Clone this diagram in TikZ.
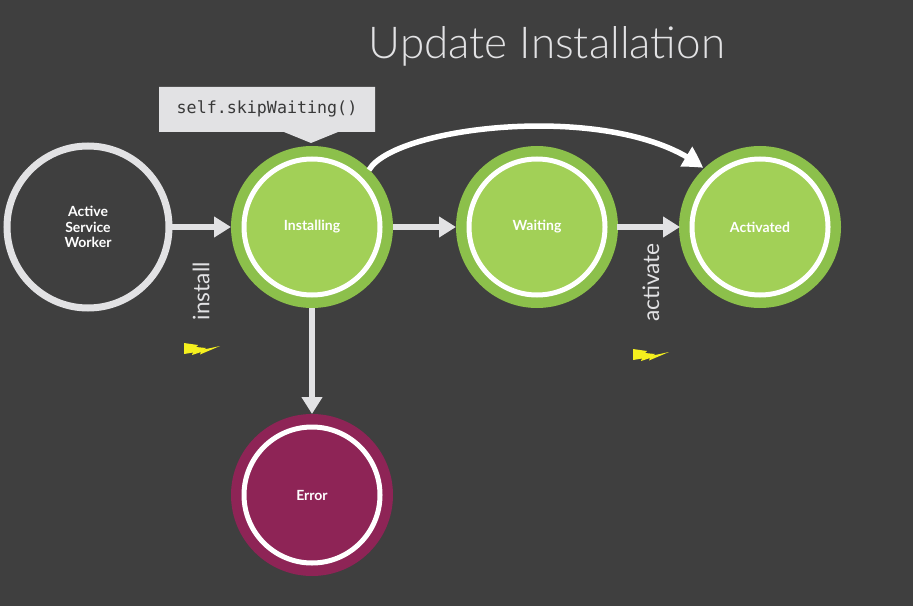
\documentclass[tikz,border=0pt]{standalone}
\usepackage{fontspec}
\setmainfont{Lato}
\setmonofont{DejaVu Sans Mono}
\newfontfamily\titlefont{Lato Light}
\usetikzlibrary{arrows.meta,bending}
\definecolor{bg}{HTML}{3F3F3F}
\definecolor{ringgrey}{HTML}{E2E2E4}
\definecolor{leaf}{HTML}{A2D057}
\definecolor{leafedge}{HTML}{8CC04B}
\definecolor{wine}{HTML}{8E2456}
\definecolor{bolt}{HTML}{F5F01E}
\tikzset{
  x=0.75pt,y=-0.75pt,
  statebase/.style={circle,inner sep=0pt,minimum size=142pt*0.75,line width=12.5pt*0.75,align=center,text=white,
     font=\fontsize{10.5pt}{11.6pt}\selectfont\bfseries},
  greenstate/.style={statebase,draw=white,fill=leaf,
     preaction={draw=none,fill=leafedge,circle,minimum size=162pt*0.75}},
  conn/.style={draw=ringgrey,line width=5.5pt*0.75,-{Triangle[length=17pt*0.75,width=20pt*0.75]},shorten >=0pt},
  evlabel/.style={rotate=90,text=ringgrey,font=\fontsize{17pt}{20pt}\selectfont,inner sep=0pt},
  boltshape/.style={fill=bolt,draw=none},
}
\newcommand{\boltat}[2]{%
  \fill[boltshape,shift={(#1,#2)}] (0,-6) -- (14,-4) -- (12,-2) -- (22,-1) -- (20,0.5) -- (36,-3) -- (16,5.5) -- (17,3) -- (8,6) -- (9,3.5) -- (0,5) -- cycle;}
\begin{document}
\begin{tikzpicture}
\useasboundingbox (0,0) rectangle (913,606);
\fill[bg] (0,0) rectangle (913,606);
% green and wine discs under the white rings
\fill[leafedge] (312,227) circle (81);
\fill[leafedge] (537,227) circle (81);
\fill[leafedge] (760,227) circle (81);
\fill[wine] (312,495) circle (81);
\node[statebase,draw=ringgrey,fill=bg,minimum size=162pt*0.75,line width=7pt*0.75] (active) at (88,227) {Active\\Service\\Worker};
\node[statebase,draw=white,fill=leaf,line width=5pt*0.75,minimum size=136pt*0.75] (inst) at (312,227) {Installing};
\node[statebase,draw=white,fill=leaf,line width=5pt*0.75,minimum size=136pt*0.75] (wait) at (537,227) {Waiting};
\node[statebase,draw=white,fill=leaf,line width=5pt*0.75,minimum size=136pt*0.75] (act) at (760,227) {Activated};
\node[statebase,draw=white,fill=wine,line width=5pt*0.75,minimum size=136pt*0.75] (err) at (312,495) {Error};
\node[text=ringgrey,inner sep=0pt,anchor=base,font=\titlefont\fontsize{33pt}{36pt}\selectfont] (title) at (547,59) {Update Installation};
% callout
\fill[ringgrey] (159,87) -- (375,87) -- (375,132) -- (338,132) -- (311,143) -- (284,132) -- (159,132) -- cycle;
\node[text=bg!90!black,inner sep=0pt,font=\ttfamily\fontsize{12.5pt}{14pt}\selectfont] (skip) at (267,109) {self.skipWaiting()};
% connectors
\coordinate (a1) at (172,227); \coordinate (a2) at (231,227);
\coordinate (b1) at (393,227); \coordinate (b2) at (456,227);
\coordinate (c1) at (617,227); \coordinate (c2) at (680,227);
\coordinate (d1) at (312,308); \coordinate (d2) at (312,414);
\coordinate (e1) at (369,170); \coordinate (e2) at (703,168);
\draw[conn] (a1) -- (a2);
\draw[conn] (b1) -- (b2);
\draw[conn] (c1) -- (c2);
\draw[conn] (d1) -- (d2);
\draw[draw=white,line width=5.5pt*0.75,-{Triangle[length=20pt*0.75,width=22pt*0.75,bend]}] (e1) .. controls (395,125) and (620,100) .. (e2);
% events
\node[evlabel,anchor=east] (linstall) at (201,262) {install};
\node[evlabel,anchor=east] (lactivate) at (651,243) {activate};
\boltat{184}{349}
\boltat{633}{355}
\end{tikzpicture}
\end{document}
